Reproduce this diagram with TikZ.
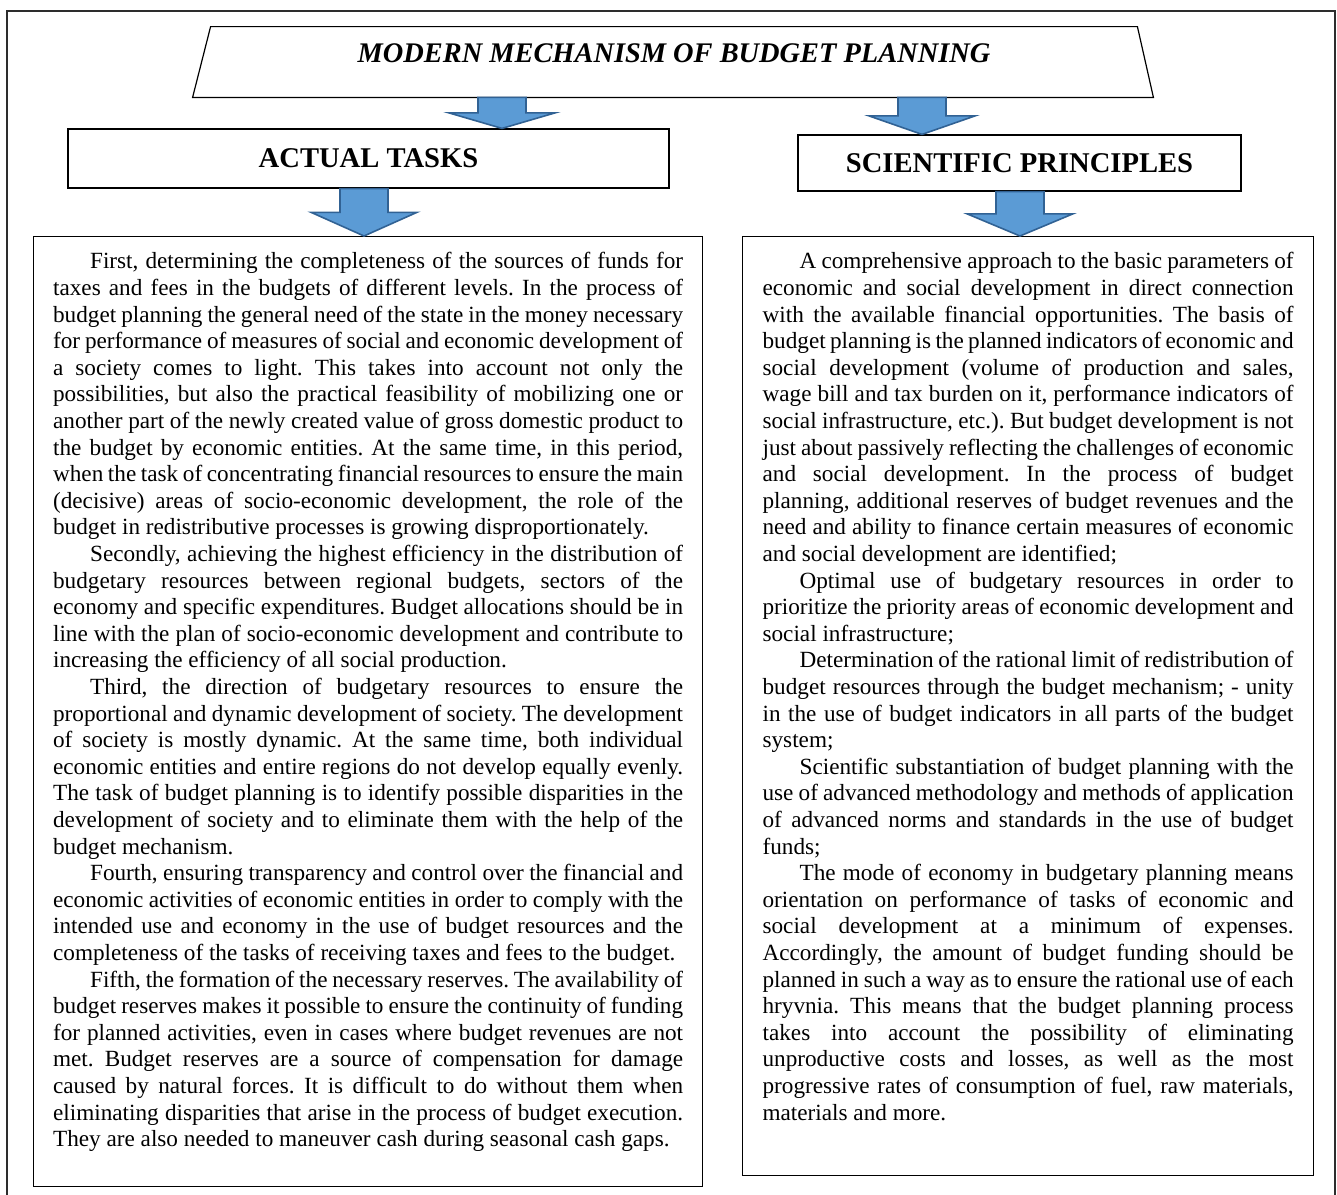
\documentclass[tikz,border=0pt]{standalone}
\usepackage{fontspec}
\setmainfont{Liberation Serif}
\usetikzlibrary{calc}

\definecolor{arrowfill}{RGB}{91,155,213}
\definecolor{arrowline}{RGB}{49,98,148}
\definecolor{framegray}{RGB}{45,45,45}

\newcommand{\bodytext}{\fontsize{11.6}{13.3}\selectfont\frenchspacing
  \setlength{\parindent}{18.5pt}\tolerance=10000\hbadness=10000}

\begin{document}
\begin{tikzpicture}[x=0.5pt, y=-0.5pt,
    frame/.style={draw=framegray, line width=1.1pt},
    headbox/.style={draw, line width=0.6pt, inner sep=0pt,
                    font=\fontsize{14.3}{16}\selectfont\bfseries},
    textbox/.style={draw, line width=0.6pt, anchor=north west,
                    inner ysep=8pt},
    flow/.style={fill=arrowfill, draw=arrowline, line width=0.8pt,
                 line join=miter}]
  \useasboundingbox (0,0) rectangle (1337,1194);
  \draw[frame] (7,1210) |- (1335,11) -- (1335,1210);

  % title
  \node[minimum width=480pt, minimum height=35pt, inner sep=0pt] (title) at (673,62) {};
  \draw[line width=0.6pt] (title.south west) -- ($(title.north west)+(18,0)$)
    -- ($(title.north east)+(-16,0)$) -- (title.south east) -- cycle;
  \node[font=\fontsize{14.2}{16}\selectfont\bfseries\itshape] (titletext) at (674,53)
    {MODERN MECHANISM OF BUDGET PLANNING};

  % headings
  \node[headbox, minimum width=300.5pt, minimum height=29.5pt] (tasks) at (368.5,158.5)
    {ACTUAL TASKS};
  \node[headbox, minimum width=221.5pt, minimum height=28pt] (principles) at (1019.5,163)
    {SCIENTIFIC PRINCIPLES};

  % text boxes
  \node[textbox, inner xsep=9.75pt] (taskstext) at (33,236) {%
    \begin{minipage}[t][459pt][t]{315pt}\bodytext
    First, determining the completeness of the sources of funds for\linebreak
    taxes and fees in the budgets of different levels. In the process of\linebreak
    budget planning the general need of the state in the money necessary\linebreak
    for performance of measures of social and economic development of\linebreak
    a society comes to light. This takes into account not only the\linebreak
    possibilities, but also the practical feasibility of mobilizing one or\linebreak
    another part of the newly created value of gross domestic product to\linebreak
    the budget by economic entities. At the same time, in this period,\linebreak
    when the task of concentrating financial resources to ensure the main\linebreak
    (decisive) areas of socio-economic development, the role of the\linebreak
    budget in redistributive processes is growing disproportionately.

    Secondly, achieving the highest efficiency in the distribution of\linebreak
    budgetary resources between regional budgets, sectors of the\linebreak
    economy and specific expenditures. Budget allocations should be in\linebreak
    line with the plan of socio-economic development and contribute to\linebreak
    increasing the efficiency of all social production.

    Third, the direction of budgetary resources to ensure the\linebreak
    proportional and dynamic development of society. The development\linebreak
    of society is mostly dynamic. At the same time, both individual\linebreak
    economic entities and entire regions do not develop equally evenly.\linebreak
    The task of budget planning is to identify possible disparities in the\linebreak
    development of society and to eliminate them with the help of the\linebreak
    budget mechanism.

    Fourth, ensuring transparency and control over the financial and\linebreak
    economic activities of economic entities in order to comply with the\linebreak
    intended use and economy in the use of budget resources and the\linebreak
    completeness of the tasks of receiving taxes and fees to the budget.

    Fifth, the formation of the necessary reserves. The availability of\linebreak
    budget reserves makes it possible to ensure the continuity of funding\linebreak
    for planned activities, even in cases where budget revenues are not\linebreak
    met. Budget reserves are a source of compensation for damage\linebreak
    caused by natural forces. It is difficult to do without them when\linebreak
    eliminating disparities that arise in the process of budget execution.\linebreak
    They are also needed to maneuver cash during seasonal cash gaps.
    \end{minipage}};

  \node[textbox, inner xsep=10pt] (principlestext) at (742,236) {%
    \begin{minipage}[t][453.5pt][t]{265.5pt}\bodytext
    A comprehensive approach to the basic parameters of\linebreak
    economic and social development in direct connection\linebreak
    with the available financial opportunities. The basis of\linebreak
    budget planning is the planned indicators of economic and\linebreak
    social development (volume of production and sales,\linebreak
    wage bill and tax burden on it, performance indicators of\linebreak
    social infrastructure, etc.). But budget development is not\linebreak
    just about passively reflecting the challenges of economic\linebreak
    and social development. In the process of budget\linebreak
    planning, additional reserves of budget revenues and the\linebreak
    need and ability to finance certain measures of economic\linebreak
    and social development are identified;

    Optimal use of budgetary resources in order to\linebreak
    prioritize the priority areas of economic development and\linebreak
    social infrastructure;

    Determination of the rational limit of redistribution of\linebreak
    budget resources through the budget mechanism; - unity\linebreak
    in the use of budget indicators in all parts of the budget\linebreak
    system;

    Scientific substantiation of budget planning with the\linebreak
    use of advanced methodology and methods of application\linebreak
    of advanced norms and standards in the use of budget\linebreak
    funds;

    The mode of economy in budgetary planning means\linebreak
    orientation on performance of tasks of economic and\linebreak
    social development at a minimum of expenses.\linebreak
    Accordingly, the amount of budget funding should be\linebreak
    planned in such a way as to ensure the rational use of each\linebreak
    hryvnia. This means that the budget planning process\linebreak
    takes into account the possibility of eliminating\linebreak
    unproductive costs and losses, as well as the most\linebreak
    progressive rates of consumption of fuel, raw materials,\linebreak
    materials and more.
    \end{minipage}};

  % block arrows
  \foreach \ax/\from/\to in {502/title/tasks, 922/title/principles,
                             364/tasks/taskstext, 1020/principles/principlestext} {
      \coordinate (ax) at (\ax,0);
      \coordinate (atop) at (\from.south -| ax);
      \coordinate (atip) at (\to.north -| ax);
      \coordinate (amid) at ($(atop)!0.5!(atip)$);
      \draw[flow] ($(atop)+(-24,0)$) -- ($(atop)+(24,0)$) -- ($(amid)+(24,0)$)
        -- ($(amid)+(53,0)$) -- (atip) -- ($(amid)+(-53,0)$)
        -- ($(amid)+(-24,0)$) -- cycle;
  }
\end{tikzpicture}
\end{document}
